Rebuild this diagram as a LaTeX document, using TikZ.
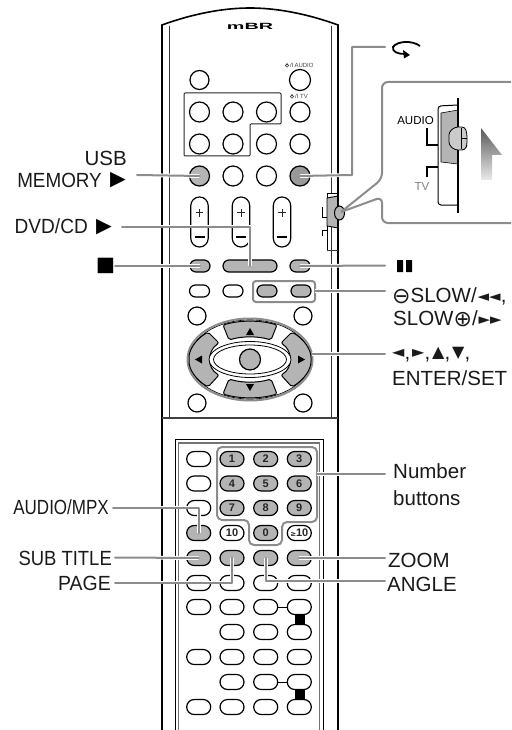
\documentclass[tikz,border=0pt]{standalone}
\usepackage{fontspec}
\setmainfont{Liberation Sans}
\newfontfamily\symf{DejaVu Sans}
\usetikzlibrary{shapes.misc,shadings}
\definecolor{btngray}{HTML}{B4B4B4}
\definecolor{leadgray}{HTML}{8C8C8C}
\definecolor{txt}{HTML}{1A1A1A}
\newcommand{\arrg}[1]{\raisebox{1.6pt}{\symf\fontsize{16}{16}\selectfont #1}}
\newcommand{\dblarr}[1]{\raisebox{.6pt}{\symf\fontsize{15}{15}\selectfont #1}}
\newcommand{\circsym}[1]{\raisebox{-1pt}{\symf\fontsize{22}{22}\selectfont #1}}
\tikzset{
  x=1pt,y=-1pt,
  circbtn/.style={circle,draw=black,line width=1.2pt,fill=white,minimum size=#1,inner sep=0pt},
  ovalbtn/.style={rounded rectangle,draw=black,line width=1.2pt,fill=white,minimum width=24pt,minimum height=15pt,inner sep=0pt,font=\bfseries\fontsize{11}{11}\selectfont,text=black!85},
  smallbtn/.style={ovalbtn,minimum width=20pt,minimum height=12pt},
  hl/.style={fill=btngray},
  leader/.style={draw=leadgray,line width=2pt,line join=round,line cap=round,preaction={draw=white,line width=3.8pt}},
  grpbox/.style={draw=leadgray,line width=2pt,rounded corners=3pt},
  lab/.style={inner sep=0pt,text=txt,font=\fontsize{20.5}{20.5}\selectfont},
  lbl/.style={lab,anchor=base east},
  lbr/.style={lab,anchor=base west},
  sym/.style={inner sep=0pt,text=black},
  bodyline/.style={line width=1.6pt,draw=black},
  innerline/.style={line width=1pt,draw=black!80},
  tinytext/.style={inner sep=0pt,font=\fontsize{6}{6}\selectfont,text=black!75},
  pad/.style={draw=black,line width=1pt,fill=btngray,line join=round,rounded corners=2pt},
  tick/.style={line width=1pt,draw=black},
}
\begin{document}
\begin{tikzpicture}
\useasboundingbox (0,0) rectangle (511,730);
% body
\draw[bodyline] (162,730) -- (162,25) .. controls (195,13) and (225,8) .. (250,8) .. controls (275,8) and (305,13) .. (338,25) -- (338,730);
\draw[innerline] (169,26) -- (169,418);
\draw[innerline] (331,26) -- (331,418);
\draw[line width=1.5pt,black!75] (162,418) -- (338,418);
\node[inner sep=0pt,font=\bfseries\fontsize{9}{9}\selectfont,xscale=2.2] (logo) at (250,26) {mBR};
% lower panel frame
\draw[line width=.9pt,black] (175,730) -- (175,439.5) -- (323,439.5) -- (323,730);
\draw[line width=1.2pt,black!55] (178.5,730) -- (178.5,443) -- (319.5,443) -- (319.5,730);
% top buttons
\node[circbtn=19pt] (pa) at (199.5,80) {};
\node[circbtn=21pt] (pb) at (300,80) {};
\node[tinytext,anchor=west] (pbt) at (290,65.5) {/I\,AUDIO};
\node[tinytext,anchor=west] (pct) at (295,96.5) {/I TV};
\draw[line width=.6pt,black!75] (287,65.5) circle (1.8pt) (287,63) -- (287,65.5);
\draw[line width=.6pt,black!75] (292,96.5) circle (1.8pt) (292,94) -- (292,96.5);
\foreach \y/\r in {112/a,144/b}
  \foreach \x/\c in {199.5/a,233/b,266.5/c,300/d}
    \node[circbtn=20pt] (g\r\c) at (\x,\y) {};
\node[circbtn=20pt,hl] (usb) at (199.5,176) {};
\node[circbtn=20pt] (r2) at (233,176) {};
\node[circbtn=20pt] (r3) at (266.5,176) {};
\node[circbtn=20pt,fill=black!40] (rep) at (300,176) {};
\draw[line width=1pt,black!85,rounded corners=1pt] (184,93) -- (281,93) -- (281,124) -- (250,124) -- (250,156) -- (184,156) -- cycle;
% rockers
\foreach \x in {199.5,241,282}{
  \draw[line width=1.2pt,fill=white,rounded corners=8.6pt] (\x-8.7,197) rectangle (\x+8.7,247);
  \draw[line width=.8pt,black!85] (\x-3.8,212.7) -- (\x+3.8,212.7) (\x,209) -- (\x,216.5);
  \draw[line width=2.6pt] (\x-5,237) -- (\x+5,237);
}
% side switch
\draw[line width=.9pt,fill=white] (327,250) -- (327,193) -- (337,193);
\draw[line width=.9pt,fill=btngray] (327,198) -- (338,196) -- (338,228) -- (327,226) -- cycle;
\draw[bodyline] (338,190) -- (338,250);
\draw[innerline] (327,250) -- (338,250);
\draw[line width=1pt,fill=btngray] (339.5,213) ellipse (5pt and 7pt);
\coordinate (knob) at (341,212);
\draw[tick] (322.7,207) -- (322.7,217) -- (327,217);
\draw[tick] (327,230) -- (322.7,230) -- (322.7,236);
% small buttons
\node[smallbtn,hl] (stopb) at (200,266) {};
\node[smallbtn,hl,minimum width=54pt] (dvd) at (250,266) {};
\node[smallbtn,hl] (pauseb) at (300,266) {};
\node[smallbtn] (s1) at (199.5,291) {};
\node[smallbtn] (s2) at (233,291) {};
\node[smallbtn,hl] (s3) at (267,291) {};
\node[smallbtn,hl] (s4) at (301,291) {};
\draw[grpbox] (253,281) rectangle (315,302);
\coordinate (slowbox) at (315,291);
\node[circbtn=18pt] (c1) at (197,316) {};
\node[circbtn=18pt] (c2) at (303,316) {};
\node[circbtn=18pt] (c3) at (197,403) {};
\node[circbtn=18pt] (c4) at (303,403) {};
% joypad
\draw[draw=leadgray,line width=2pt,fill=white] (250,359.5) ellipse (62.5pt and 41pt);
\draw[line width=.6pt,black] (250,359.5) ellipse (60.5pt and 39.5pt);
\draw[pad] (223,325) .. controls (240,320) and (260,320) .. (277,325) -- (271,340) .. controls (258,336) and (242,336) .. (229,340) -- cycle;
\draw[pad] (223,394) .. controls (240,399) and (260,399) .. (277,394) -- (271,379) .. controls (258,383) and (242,383) .. (229,379) -- cycle;
\draw[pad] (208,332) .. controls (195,340) and (189,350) .. (189,359.5) .. controls (189,369) and (195,379) .. (208,387) -- (219,375) .. controls (207,368) and (207,351) .. (219,343) -- cycle;
\draw[pad] (292,332) .. controls (305,340) and (311,350) .. (311,359.5) .. controls (311,369) and (305,379) .. (292,387) -- (281,375) .. controls (293,368) and (293,351) .. (281,343) -- cycle;
\draw[line width=.8pt,fill=white] (250,359.5) ellipse (41pt and 18pt);
\draw[line width=.8pt,fill=white] (250,359.5) ellipse (36.5pt and 14.5pt);
\node[circbtn=21pt,hl] (enter) at (250,359.5) {};
\fill[black] (250,328) -- (254,335) -- (246,335) -- cycle;
\fill[black] (250,391) -- (254,384) -- (246,384) -- cycle;
\fill[black] (195,359.5) -- (202,355.5) -- (202,363.5) -- cycle;
\fill[black] (305,359.5) -- (298,355.5) -- (298,363.5) -- cycle;
\coordinate (padr) at (312,354);
% lower buttons
\foreach \y/\r in {459/1,483.5/2,508/3,533/4,558/5,583/6,607/7,632/8,657/9,682/10,707/11}{
  \coordinate (p\r a) at (198.7,\y);
  \coordinate (p\r b) at (232,\y);
  \coordinate (p\r c) at (265.7,\y);
  \coordinate (p\r d) at (299.3,\y);
}
\draw[line width=1pt] (p7c) -- (p7d);
\draw[line width=1pt] (p10c) -- (p10d);
\fill[black] (295,615) rectangle (304.5,625);
\fill[black] (295,690) rectangle (304.5,700);
\foreach \r in {1,2,3,6,7,9,11}{ \node[ovalbtn] (b\r a) at (p\r a) {}; }
\foreach \r in {6,7,8,9,10,11}{
  \node[ovalbtn] (b\r b) at (p\r b) {};
  \node[ovalbtn] (b\r c) at (p\r c) {};
  \node[ovalbtn] (b\r d) at (p\r d) {};
}
\node[ovalbtn,hl] (n1) at (p1b) {1};
\node[ovalbtn,hl] (n2) at (p1c) {2};
\node[ovalbtn,hl] (n3) at (p1d) {3};
\node[ovalbtn,hl] (n4) at (p2b) {4};
\node[ovalbtn,hl] (n5) at (p2c) {5};
\node[ovalbtn,hl] (n6) at (p2d) {6};
\node[ovalbtn,hl] (n7) at (p3b) {7};
\node[ovalbtn,hl] (n8) at (p3c) {8};
\node[ovalbtn,hl] (n9) at (p3d) {9};
\node[ovalbtn,hl] (b4a) at (p4a) {};
\node[ovalbtn] (n10) at (p4b) {10};
\node[ovalbtn,hl] (n0) at (p4c) {0};
\node[ovalbtn] (np) at (p4d) {{\symf\fontsize{7}{7}\selectfont ≥}10};
\node[ovalbtn,hl] (b5a) at (p5a) {};
\node[ovalbtn,hl] (b5b) at (p5b) {};
\node[ovalbtn,hl] (b5c) at (p5c) {};
\node[ovalbtn,hl] (b5d) at (p5d) {};
\draw[grpbox,rounded corners=5pt] (217,447) -- (317,447) -- (317,522) -- (282,522) -- (282,545) -- (249,545) -- (249,520) -- (217,520) -- cycle;
\coordinate (numbox) at (317,474);
% inset
\draw[draw=leadgray,line width=2pt,line join=round,rounded corners=6pt] (knob) -- (382,179) -- (382,82) -- (511,82);
\draw[draw=leadgray,line width=2pt,line join=round,rounded corners=6pt] (knob) -- (382,197) -- (382,223) -- (511,223);
\draw[line width=1pt,rounded corners=3pt] (458,105) -- (438,106) -- (438,205) -- (458,205);
\draw[line width=.6pt,fill=btngray] (441,113) -- (458,110) -- (458,164) -- (441,162) -- cycle;
\draw[line width=1.6pt] (458,98) -- (458,213);
\draw[line width=.8pt,fill=btngray!70,rounded corners=3pt] (455,127) -- (465,127) -- (467,134) -- (467,145) -- (465,150) -- (455,150) -- (449,145) -- (449,132) -- cycle;
\draw[line width=.7pt] (461,128) -- (461,149) (461,138) -- (467,138);
\draw[line width=2.6pt] (427,128) -- (427,145) -- (438,145);
\draw[line width=2.6pt] (438,167) -- (427,167) -- (427,177);
\node[inner sep=0pt,font=\fontsize{11.5}{11.5}\selectfont] (audio) at (415.5,121) {AUDIO};
\node[inner sep=0pt,font=\fontsize{11.5}{11.5}\selectfont,text=black!50] (tv) at (422,187) {TV};
\shade[top color=black!65,bottom color=black!8] (481,128) -- (502,155) -- (492,155) -- (492,180) -- (481,180) -- cycle;
% curved icon
\draw[line width=1.8pt] (420,46) .. controls (412,40) and (397,41) .. (393,47) .. controls (392,52) and (398,54) .. (405,54);
\fill[black] (403,50) -- (410,55) -- (404,58.5) -- cycle;
% labels
\node[lbl] (lusb) at (127,166) {USB};
\node[lbl,xscale=.92] (lmem) at (102,187) {MEMORY};
\node[sym,font=\fontsize{26}{26}\selectfont] (amem) at (118,180.5) {►};
\node[lbl,xscale=.93] (ldvd) at (88,233) {DVD/CD};
\node[sym,font=\fontsize{26}{26}\selectfont] (advd) at (104,227) {►};
\node[sym,font=\fontsize{32}{32}\selectfont] (lstop) at (105.5,267) {■};
\node[lbl,xscale=.83] (laud) at (109,514) {AUDIO/MPX};
\node[lbl,xscale=.9] (lsub) at (112,565) {SUB TITLE};
\node[lbl,xscale=.95] (lpage) at (111,590) {PAGE};
\fill[black] (397,260) rectangle (403,272) (406,260) rectangle (412,272);
\node[lbr] (lslow) at (392,302) {\circsym{⊖}SLOW/\hskip1pt\dblarr{◄◄},};
\node[lbr] (lslow2) at (393,325) {SLOW\circsym{⊕}/\hskip1pt\dblarr{►►}};
\node[lbr] (larr) at (392,359) {\arrg{◄},\hskip2pt\arrg{►},\hskip2pt\arrg{▲},\hskip2pt\arrg{▼},};
\node[lbr] (lent) at (392,385) {ENTER/SET};
\node[lbr] (lnum) at (393,478) {Number};
\node[lbr] (lbut) at (393,505) {buttons};
\node[lbr] (lzoom) at (388,567) {ZOOM};
\node[lbr] (lang) at (387,591) {ANGLE};
% leaders
\coordinate (e1) at (137,175);
\coordinate (e2) at (122,226.5);
\coordinate (e3) at (115,266);
\coordinate (e4) at (113,507.5);
\coordinate (e5) at (115,557.5);
\coordinate (e6) at (115,582.5);
\coordinate (f1) at (385,47);
\coordinate (f2) at (385,265.5);
\coordinate (f3) at (385,291);
\coordinate (f4) at (385,354);
\coordinate (f5) at (385,474);
\coordinate (f6) at (385,558);
\coordinate (f7) at (385,581);
\draw[leader] (e1) -- (usb.center);
\draw[leader] (f1) -| (352,175) -- (rep.center);
\draw[leader] (e2) -| (dvd.center);
\draw[leader] (e3) -- (stopb.center);
\draw[leader] (f2) -- (pauseb.center);
\draw[leader] (f3) -- (slowbox);
\draw[leader] (f4) -- (padr);
\draw[leader] (f5) -- (numbox);
\draw[leader] (e4) -| (b4a.center);
\draw[leader] (e5) -- (b5a.center);
\draw[leader] (e6) -| (b5b.center);
\draw[leader] (f6) -- (b5d.center);
\draw[leader] (f7) -| (b5c.center);
\end{tikzpicture}
\end{document}
